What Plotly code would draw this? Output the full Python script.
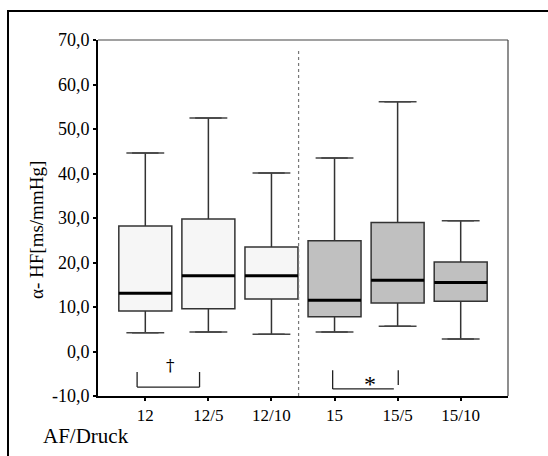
import plotly.graph_objects as go

# ---- data ----
categories = ["12", "12/5", "12/10", "15", "15/5", "15/10"]
upper_whisker = [44.6, 52.5, 40.1, 43.5, 56.1, 29.4]
q3 = [28.2, 29.8, 23.5, 24.9, 29.0, 20.1]
median = [13.1, 17.0, 17.0, 11.5, 16.0, 15.5]
q1 = [9.1, 9.6, 11.8, 7.8, 10.9, 11.3]
lower_whisker = [4.2, 4.4, 3.9, 4.4, 5.7, 2.8]
groups = ["light", "light", "light", "dark", "dark", "dark"]
y_tick_vals = [-10, 0, 10, 20, 30, 40, 50, 60, 70]
y_tick_text = ["-10,0", "0,0", "10,0", "20,0", "30,0", "40,0", "50,0", "60,0", "70,0"]

FONT = "Liberation Serif"
fills = {"light": "#f6f6f6", "dark": "#c0c0c0"}
BOX_W = 0.84
CAP_HW = 0.3

xs = list(range(len(categories)))
fig = go.Figure()

for g in ["light", "dark"]:
    idx = [i for i in xs if groups[i] == g]
    fig.add_trace(go.Box(
        x=[xs[i] for i in idx],
        q1=[q1[i] for i in idx],
        median=[median[i] for i in idx],
        q3=[q3[i] for i in idx],
        lowerfence=[lower_whisker[i] for i in idx],
        upperfence=[upper_whisker[i] for i in idx],
        fillcolor=fills[g],
        line=dict(color="#333333", width=1.5),
        width=BOX_W,
        boxpoints=False,
        hoverinfo="skip",
        showlegend=False,
    ))

# whisker caps
cx, cy = [], []
for i in xs:
    for v in (upper_whisker[i], lower_whisker[i]):
        cx += [i - CAP_HW, i + CAP_HW, None]
        cy += [v, v, None]
fig.add_trace(go.Scatter(x=cx, y=cy, mode="lines",
                         line=dict(color="#444444", width=1.5),
                         hoverinfo="skip", showlegend=False))

# thick medians
mx, my = [], []
for i in xs:
    mx += [i - BOX_W / 2, i + BOX_W / 2, None]
    my += [median[i], median[i], None]
fig.add_trace(go.Scatter(x=mx, y=my, mode="lines",
                         line=dict(color="black", width=3),
                         hoverinfo="skip", showlegend=False))

shapes = []
# dotted separator
shapes.append(dict(type="line", xref="x", yref="y", x0=2.43, x1=2.43, y0=-10, y1=67.8,
                   line=dict(color="#777777", width=1.2, dash="dot")))
# plot frame (top, right thin gray)
shapes.append(dict(type="line", xref="paper", yref="paper", x0=0, x1=1, y0=1, y1=1,
                   line=dict(color="#444444", width=1.2)))
shapes.append(dict(type="line", xref="paper", yref="paper", x0=1, x1=1, y0=0, y1=1,
                   line=dict(color="#444444", width=1.2)))
# outer frame
shapes.append(dict(type="rect", xref="paper", yref="paper", x0=-0.2195, x1=1.2, y0=-0.3, y1=1.0815,
                   line=dict(color="black", width=2)))
# dagger bracket
br = dict(color="#222222", width=1.3)
shapes += [
    dict(type="line", xref="x", yref="y", x0=-0.13, x1=0.86, y0=-8.0, y1=-8.0, line=br),
    dict(type="line", xref="x", yref="y", x0=-0.13, x1=-0.13, y0=-8.0, y1=-4.6, line=br),
    dict(type="line", xref="x", yref="y", x0=0.86, x1=0.86, y0=-8.0, y1=-4.6, line=br),
]
# star bracket
shapes += [
    dict(type="line", xref="x", yref="y", x0=2.97, x1=3.94, y0=-8.4, y1=-8.4, line=br),
    dict(type="line", xref="x", yref="y", x0=2.97, x1=2.97, y0=-8.4, y1=-4.2, line=br),
    dict(type="line", xref="x", yref="y", x0=4.01, x1=4.01, y0=-7.5, y1=-4.2, line=br),
]

annotations = [
    dict(text="†", x=0.40, y=-3.0, xref="x", yref="y", showarrow=False,
         font=dict(family="DejaVu Serif", size=17, color="#000000")),
    dict(text="*", x=3.57, y=-7.3, xref="x", yref="y", showarrow=False,
         font=dict(family=FONT, size=24, color="black")),
    dict(text="AF/Druck", x=(86 - 98) / 410, y=(396 - 436) / 356, xref="paper", yref="paper",
         showarrow=False, xanchor="center", yanchor="middle",
         font=dict(family=FONT, size=21, color="black")),
    dict(text="α- HF[ms/mmHg]", x=(36 - 98) / 410, y=(396 - 230) / 356, xref="paper", yref="paper",
         showarrow=False, xanchor="center", yanchor="middle", textangle=-90,
         font=dict(family=FONT, size=19, color="black")),
]

fig.update_layout(
    width=548, height=456,
    margin=dict(l=98, r=40, t=40, b=60),
    paper_bgcolor="white", plot_bgcolor="white",
    boxmode="overlay",
    shapes=shapes, annotations=annotations,
    font=dict(family=FONT, size=17, color="black"),
)
fig.update_xaxes(
    range=[-0.75, 5.75], tickvals=xs, ticktext=categories,
    showgrid=False, zeroline=False, showline=True, linecolor="black", linewidth=2,
    ticks="outside", ticklen=3, tickwidth=2, tickcolor="black",
    tickfont=dict(family=FONT, size=17, color="black"),
)
fig.update_yaxes(
    range=[-10, 70], tickvals=y_tick_vals, ticktext=y_tick_text,
    showgrid=False, zeroline=False, showline=True, linecolor="black", linewidth=2,
    ticks="outside", ticklen=3, tickwidth=2, tickcolor="black",
    tickfont=dict(family=FONT, size=18, color="black"),
)

fig.write_html("out.html")
